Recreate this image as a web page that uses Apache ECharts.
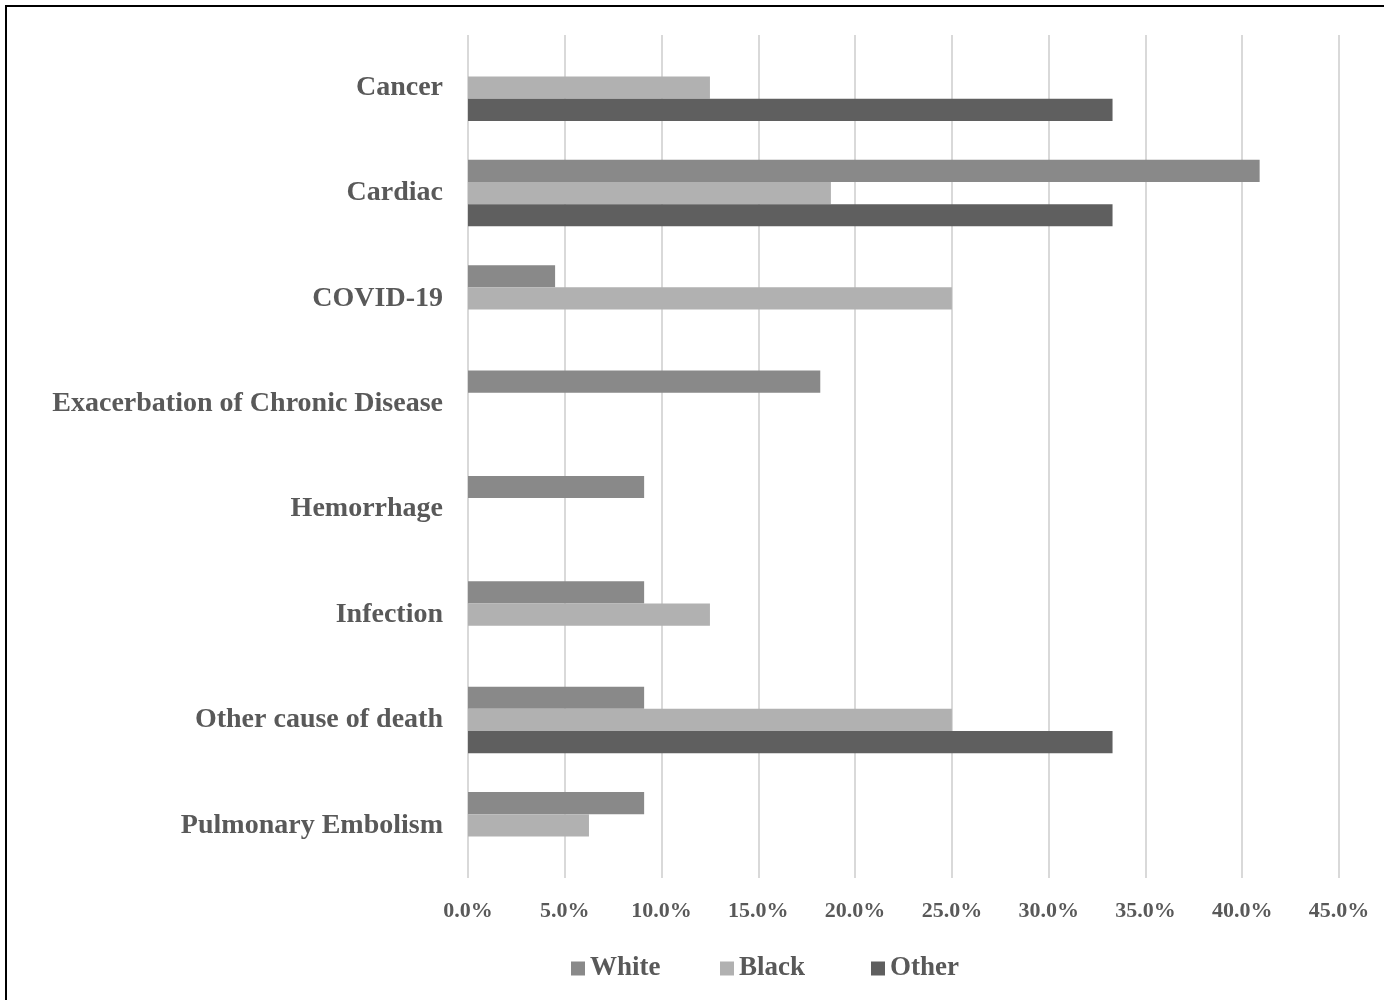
<!DOCTYPE html>
<html>
<head>
<meta charset="utf-8">
<script src="https://cdn.jsdelivr.net/npm/echarts@6/dist/echarts.min.js"></script>
<style>
  html, body { margin: 0; padding: 0; background: #fff; }
  #chart { width: 1384px; height: 1000px; }
</style>
</head>
<body>
<div id="chart"></div>
<script>
// Causes of death, share by race (percent)
const categories = [
  'Cancer', 'Cardiac', 'COVID-19', 'Exacerbation of Chronic Disease',
  'Hemorrhage', 'Infection', 'Other cause of death', 'Pulmonary Embolism'
];
const whiteValues = [0, 40.9, 4.5, 18.2, 9.1, 9.1, 9.1, 9.1];
const blackValues = [12.5, 18.75, 25.0, 0, 0, 12.5, 25.0, 6.25];
const otherValues = [33.3, 33.3, 0, 0, 0, 0, 33.3, 0];
const seriesNames = ['White', 'Black', 'Other'];

const FONT = '"Liberation Serif", "DejaVu Serif", serif';
const TEXT = '#595959';
const colors = ['#898989', '#b1b1b1', '#5f5f5f'];
const legendLeft = [566, 715, 866];

const chart = echarts.init(document.getElementById('chart'), null, { renderer: 'canvas' });

const toNull = arr => arr.map(v => (v === 0 ? null : v));

// one legend block per series so each entry sits at its own x position
const legends = seriesNames.map((name, i) => ({
  data: [name],
  top: 950,
  left: legendLeft[i],
  itemWidth: 14,
  itemHeight: 14,
  icon: 'rect',
  textStyle: { fontFamily: FONT, fontSize: 27, fontWeight: 'bold', color: TEXT }
}));

chart.setOption({
  animation: false,
  backgroundColor: '#ffffff',
  color: colors,
  textStyle: { fontFamily: FONT },
  graphic: [{
    type: 'polyline',
    shape: { points: [[6, 1000], [6, 6], [1384, 6]] },
    style: { stroke: '#000', lineWidth: 2, fill: null }
  }],
  grid: { left: 468, right: 45, top: 35, bottom: 122, containLabel: false },
  legend: legends,
  xAxis: {
    type: 'value',
    min: 0,
    max: 45,
    interval: 5,
    axisLine: { show: false },
    axisTick: { show: false },
    splitLine: { show: true, lineStyle: { color: '#d9d9d9', width: 2 } },
    axisLabel: {
      formatter: v => v.toFixed(1) + '%',
      fontFamily: FONT,
      fontSize: 22,
      fontWeight: 'bold',
      color: TEXT,
      margin: 22
    }
  },
  yAxis: {
    type: 'category',
    data: categories,
    inverse: true,
    axisLine: { show: false },
    axisTick: { show: false },
    splitLine: { show: false },
    axisLabel: {
      fontFamily: FONT,
      fontSize: 28,
      fontWeight: 'bold',
      color: TEXT,
      margin: 25,
      padding: [2, 0, 0, 0]
    }
  },
  series: [
    { name: seriesNames[0], type: 'bar', data: toNull(whiteValues), barGap: '0%', barCategoryGap: '37%' },
    { name: seriesNames[1], type: 'bar', data: toNull(blackValues), barGap: '0%', barCategoryGap: '37%' },
    { name: seriesNames[2], type: 'bar', data: toNull(otherValues), barGap: '0%', barCategoryGap: '37%' }
  ]
});
</script>
</body>
</html>
